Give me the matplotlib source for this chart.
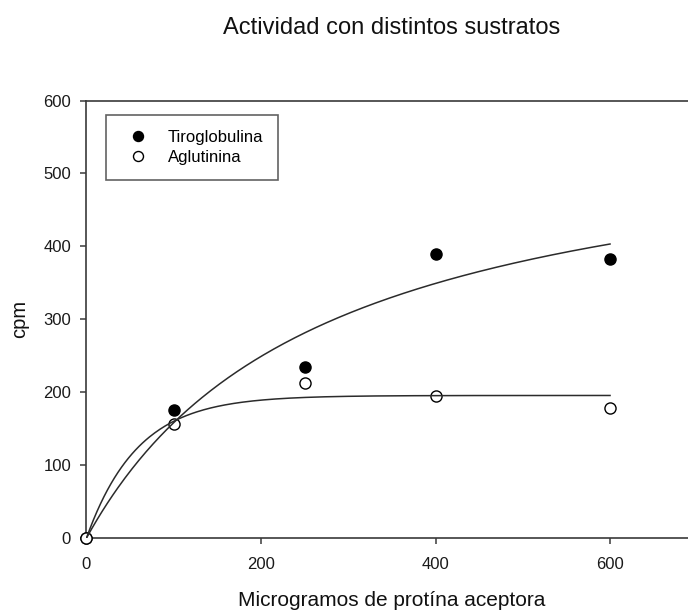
import matplotlib
matplotlib.use("Agg")
import matplotlib.pyplot as plt
import numpy as np

# ── Data ────────────────────────────────────────────────────────────────
x_ug = [0, 100, 250, 400, 600]
tiro_cpm = [0, 175, 234, 390, 383]
aglu_cpm = [0, 157, 213, 195, 179]

# fitted curves
tiro_vmax, tiro_k = 584.0, 269.0        # hyperbola  y = a*x/(b+x)
aglu_a, aglu_b = 195.5, 0.0171          # exp rise   y = a*(1-exp(-b*x))
fit_xmax = 600

x_ticks = [0, 200, 400, 600]
y_ticks = [0, 100, 200, 300, 400, 500, 600]

# ── Style ───────────────────────────────────────────────────────────────
plt.rcParams["font.family"] = ["Liberation Sans", "DejaVu Sans"]
_AX = "#3a3a3a"
_LINE = "#2b2b2b"

fig = plt.figure(figsize=(6.88, 6.10), dpi=100)
ax = fig.add_axes([0.1257, 0.118, 0.8878, 0.7172])

xf = np.linspace(0, fit_xmax, 300)
ax.plot(xf, tiro_vmax * xf / (tiro_k + xf), color=_LINE, lw=1.1, zorder=4)
ax.plot(xf, aglu_a * (1 - np.exp(-aglu_b * xf)), color=_LINE, lw=1.1, zorder=4)

ax.plot(x_ug, tiro_cpm, "o", ls="none", color="black", ms=8,
        label="Tiroglobulina", clip_on=False, zorder=3)
ax.plot(x_ug, aglu_cpm, "o", ls="none", mfc="white", mec="black", mew=1.0,
        ms=8, label="Aglutinina", clip_on=False, zorder=3)

ax.set_xlim(0, 700)
ax.set_ylim(0, 600)
ax.set_xticks(x_ticks)
ax.set_yticks(y_ticks)
ax.tick_params(direction="out", length=4.1, width=1.1, color=_AX,
               labelsize=12, labelcolor="#1a1a1a", pad=7)
ax.tick_params(axis="x", pad=9.5)
for side in ("left", "bottom", "top"):
    ax.spines[side].set_color(_AX)
    ax.spines[side].set_linewidth(1.2)
ax.spines["right"].set_visible(False)

ax.set_xlabel("Microgramos de protína aceptora", fontsize=15, color="#111111")
ax.xaxis.label.set_va("baseline")
ax.xaxis.set_label_coords(0.5, -0.1554)
ax.set_ylabel("cpm", fontsize=14.5, color="#111111")
ax.yaxis.label.set_va("center")
ax.yaxis.set_label_coords(-0.1089, 0.5)

fig.text(0.5698, 0.944, "Actividad con distintos sustratos", fontsize=17,
         ha="center", va="baseline", color="#111111")

leg = ax.legend(loc="upper left", bbox_to_anchor=(0.0319, 0.968),
                borderaxespad=0, fontsize=12, frameon=True, fancybox=False,
                edgecolor=_AX, handlelength=2.0, handletextpad=0.8,
                borderpad=0.9, labelspacing=0.3, markerscale=0.9)
leg.get_frame().set_linewidth(1.2)

fig.savefig("out.png", dpi=100)
